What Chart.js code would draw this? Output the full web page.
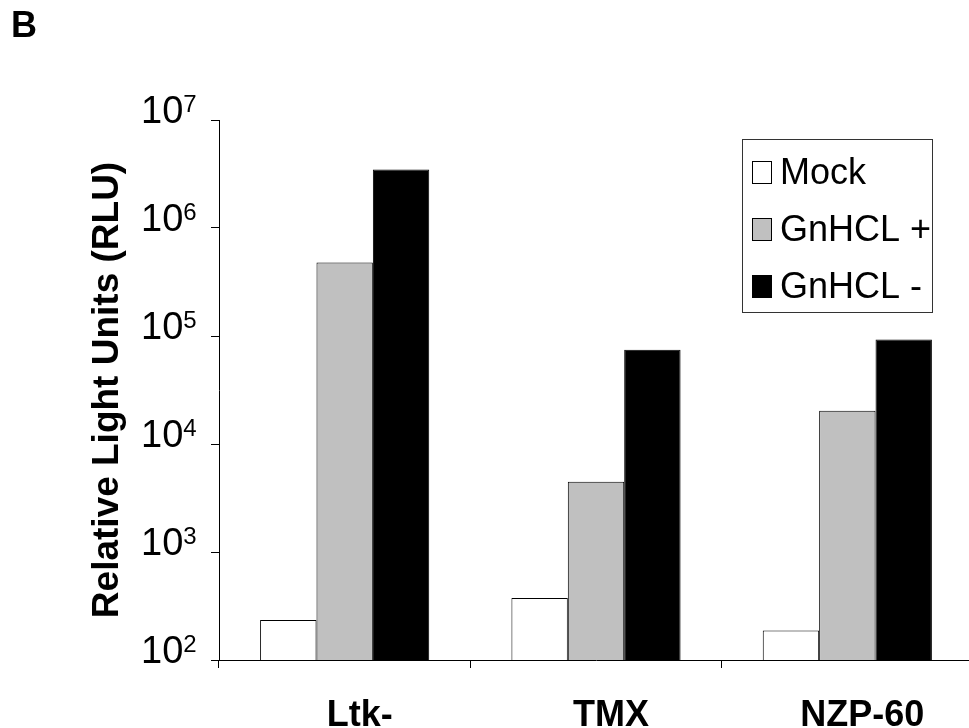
<!DOCTYPE html>
<html>
<head>
<meta charset="utf-8">
<script src="https://cdn.jsdelivr.net/npm/chart.js@4"></script>
<style>
  html, body { margin: 0; padding: 0; background: #fff; overflow: hidden; }
  #wrap { width: 969px; height: 728px; overflow: hidden; position: relative; }
  canvas { display: block; }
</style>
</head>
<body>
<div id="wrap"><canvas id="c" width="973" height="728"></canvas></div>
<script>
// Luciferase activity per cell line, log scale
const panelLabel = 'B';
const categories = ['Ltk-', 'TMX', 'NZP-60'];
const seriesNames = ['Mock', 'GnHCL +', 'GnHCL -'];
const mockRLU = [234, 375, 188];
const gnhclPlusRLU = [480000, 4480, 20300];
const gnhclMinusRLU = [3480000, 74600, 93000];
const yTickValues = [1e2, 1e3, 1e4, 1e5, 1e6, 1e7];
const yTitle = 'Relative Light Units (RLU)';
const seriesFill = ['#ffffff', '#c0c0c0', '#000000'];

const FONT = '"Liberation Sans", Arial, Helvetica, sans-serif';

// Draws the panel letter, 10^n tick labels with superscripts, and the boxed legend
const decor = {
  id: 'decor',
  afterDraw(chart) {
    const { ctx } = chart;
    const y = chart.scales.y;
    ctx.save();
    ctx.fillStyle = '#000';
    ctx.textAlign = 'left';
    ctx.textBaseline = 'alphabetic';

    ctx.font = 'bold 36px ' + FONT;
    ctx.fillText(panelLabel, 11, 37);

    y.ticks.forEach(t => {
      const py = y.getPixelForValue(t.value);
      const exp = Math.round(Math.log10(t.value));
      const x0 = y.right - 78;
      ctx.font = '38px ' + FONT;
      ctx.fillText('10', x0, py + 3);
      const w = ctx.measureText('10').width;
      ctx.font = '24px ' + FONT;
      ctx.fillText(String(exp), x0 + w, py + 3 - 11.5);
    });

    // legend
    ctx.lineWidth = 1;
    ctx.strokeStyle = '#333';
    ctx.strokeRect(742.5, 139.5, 190, 173);
    chart.data.datasets.forEach((ds, i) => {
      const base = 184 + i * 57;
      ctx.fillStyle = ds.backgroundColor;
      ctx.fillRect(752, base - 23, 20, 23);
      ctx.strokeStyle = '#000';
      ctx.strokeRect(752.5, base - 22.5, 19, 22);
      ctx.fillStyle = '#000';
      ctx.font = '36px ' + FONT;
      ctx.fillText(ds.label, 780, base);
    });
    ctx.restore();
  }
};

const seriesData = [mockRLU, gnhclPlusRLU, gnhclMinusRLU];

new Chart(document.getElementById('c'), {
  type: 'bar',
  data: {
    labels: categories,
    datasets: seriesNames.map((name, i) => ({
      label: name,
      data: seriesData[i],
      backgroundColor: seriesFill[i],
      borderColor: '#000',
      borderWidth: 1
    }))
  },
  options: {
    responsive: false,
    animation: false,
    layout: { padding: { left: 0, top: 120, right: 0, bottom: 0 } },
    plugins: {
      legend: { display: false },
      tooltip: { enabled: false }
    },
    datasets: { bar: { categoryPercentage: 0.673, barPercentage: 1 } },
    scales: {
      x: {
        grid: { display: true, drawOnChartArea: false, drawTicks: true, tickLength: 8, color: '#000', offset: true },
        border: { display: true, color: '#000', width: 1 },
        ticks: {
          color: '#000',
          font: { family: FONT, size: 36, weight: 'bold' },
          padding: 26,
          labelOffset: 15,
          maxRotation: 0,
          autoSkip: false
        },
        afterFit(s) { s.height = 68; }
      },
      y: {
        type: 'logarithmic',
        min: 100,
        max: 1e7,
        afterBuildTicks(s) { s.ticks = yTickValues.map(v => ({ value: v })); },
        grid: { display: true, drawOnChartArea: false, drawTicks: true, tickLength: 8, color: '#000' },
        border: { display: true, color: '#000', width: 1 },
        ticks: { display: false },
        title: {
          display: true,
          text: yTitle,
          color: '#000',
          font: { family: FONT, size: 37, weight: 'bold' },
          padding: { top: 86, bottom: 0 }
        },
        afterFit(s) { s.width = 219; }
      }
    }
  },
  plugins: [decor]
});
</script>
</body>
</html>
